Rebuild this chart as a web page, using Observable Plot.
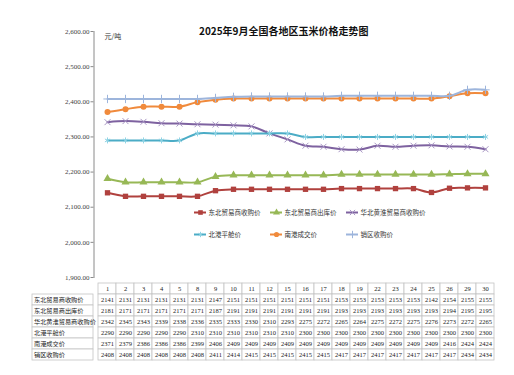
<!DOCTYPE html>
<html><head><meta charset="utf-8">
<script src="https://cdn.jsdelivr.net/npm/d3@7"></script>
<script src="https://cdn.jsdelivr.net/npm/@observablehq/plot@0.6"></script>
<style>
body{margin:0;background:#fff;}
#wrap{position:relative;width:514px;height:375px;overflow:hidden;background:#fff;}
#wrap svg{position:absolute;left:0;top:0;overflow:visible;}
</style></head>
<body><div id="wrap"></div>
<script>
const titleText = "2025年9月全国各地区玉米价格走势图";
const unitText = "元/吨";
const dates = ["1","2","3","4","5","8","9","10","11","12","15","16","17","18","19","22","23","24","25","26","29","30"];
const seriesNames = ["东北贸易商收购价","东北贸易商出库价","华北黄淮贸易商收购价","北港平舱价","南港成交价","销区收购价"];
const dbBuy   = [2141,2131,2131,2131,2131,2131,2147,2151,2151,2151,2151,2151,2151,2153,2153,2153,2153,2153,2142,2154,2155,2155];
const dbOut   = [2181,2171,2171,2171,2171,2171,2187,2191,2191,2191,2191,2191,2191,2193,2193,2193,2193,2193,2193,2194,2195,2195];
const hbBuy   = [2342,2345,2343,2339,2338,2336,2335,2333,2330,2310,2293,2275,2272,2265,2264,2275,2272,2275,2276,2273,2272,2265];
const bgPrice = [2290,2290,2290,2290,2290,2310,2310,2310,2310,2310,2310,2300,2300,2300,2300,2300,2300,2300,2300,2300,2300,2300];
const ngPrice = [2371,2379,2386,2386,2386,2399,2406,2409,2409,2409,2409,2409,2409,2409,2409,2409,2409,2409,2409,2416,2424,2424];
const xqBuy   = [2408,2408,2408,2408,2408,2408,2411,2414,2415,2415,2415,2415,2415,2417,2417,2417,2417,2417,2417,2417,2434,2434];
const yTicks = [1900,2000,2100,2200,2300,2400,2500,2600];

const valuesList = [dbBuy, dbOut, hbBuy, bgPrice, ngPrice, xqBuy];
const colors = ["#B0413E","#97B856","#7E62A0","#4BACC6","#F08A3C","#9DB5DC"];
const markerColors = ["#B0413E","#97B856","#A896C4","#8FD3E4","#F08A3C","#9DB5DC"];
const symbols = ["square","triangle","times","asterisk","circle","plus"];
const filled = [true,true,false,false,true,false];

const series = seriesNames.map((name,i)=>({
  name, color: colors[i], mcolor: markerColors[i], symbol: symbols[i], filled: filled[i],
  data: dates.map((d,j)=>({date:d, value: valuesList[i][j]}))
}));

const W = 514, H = 375;
const mL = 93.5, mR = 15;
const wrap = document.getElementById("wrap");

// Main chart
const chartMarks = [
  Plot.frame({anchor:"left", stroke:"#8a8a8a"}),
  Plot.axisY({ticks: yTicks, tickFormat: d3.format(",.2f"), tickSize: 3, tickPadding: 1.5, label: null, stroke:"#8a8a8a", fill:"#444", fontSize: 7}),
  Plot.text([titleText], {frameAnchor:"top", dx:-13, dy:-4, fontWeight:"bold", fontSize:10, fontFamily:"Noto Sans CJK SC", fill:"#111"}),
  Plot.text([unitText], {frameAnchor:"top-left", textAnchor:"start", dx:10.5, dy:2.5, fontSize:7, fontFamily:"Noto Sans CJK SC", fill:"#333"})
];
series.forEach(s=>{
  chartMarks.push(Plot.line(s.data, {x:"date", y:"value", stroke:s.color, strokeWidth:2, curve:"catmull-rom"}));
  chartMarks.push(Plot.dot(s.data, {x:"date", y:"value", symbol:()=>s.symbol, r: s.filled ? 3 : 2.8,
    fill: s.filled ? s.mcolor : "none", stroke: s.filled ? "none" : s.mcolor, strokeWidth: 1}));
});
const chart = Plot.plot({
  width:W, height:H, marginTop:31, marginBottom:98, marginLeft:mL, marginRight:mR,
  x:{type:"band", domain:dates, padding:0, axis:null},
  y:{domain:[1900,2600], axis:null},
  symbol:{type:"identity"},
  style:{fontFamily:"Liberation Serif", fontSize:"7px", background:"transparent", color:"#333"},
  marks: chartMarks
});
wrap.appendChild(chart);

// Legend
const legendItems = series.map((s,i)=>({...s, col:i%3, row:Math.floor(i/3)}));
const legendMarks = [];
legendItems.forEach(s=>{
  legendMarks.push(Plot.tickY([s], {x:"col", y:"row", stroke:s.color, strokeWidth:2, insetRight:64}));
  legendMarks.push(Plot.dot([s], {x:"col", y:"row", symbol:()=>s.symbol, dx:-32, r: s.filled ? 2.6 : 2.5,
    fill: s.filled ? s.mcolor : "none", stroke: s.filled ? "none" : s.mcolor, strokeWidth: 1}));
  legendMarks.push(Plot.text([s], {x:"col", y:"row", text:"name", textAnchor:"start", dx:-24, fontSize:6.5, fontFamily:"Noto Sans CJK SC", fill:"#333"}));
});
const legend = Plot.plot({
  width:W, height:H, marginTop:201, marginBottom:130, marginLeft:194, marginRight:92,
  x:{type:"band", domain:[0,1,2], padding:0, axis:null},
  y:{type:"band", domain:[0,1], padding:0, axis:null},
  symbol:{type:"identity"},
  style:{background:"transparent"},
  marks: legendMarks
});
wrap.appendChild(legend);

// Table
const rowKeys = ["hdr", ...seriesNames];
const headerCells = dates.map(d=>({row:"hdr", date:d, text:d}));
const bodyCells = series.flatMap(s=>s.data.map(p=>({row:s.name, date:p.date, text:String(p.value)})));
const tMarginTop = 281, tMarginBottom = 13;
const table = Plot.plot({
  width:W, height:H, marginTop:tMarginTop, marginBottom:tMarginBottom, marginLeft:mL, marginRight:mR,
  x:{type:"band", domain:dates, padding:0, axis:null},
  y:{type:"band", domain:rowKeys, padding:0, axis:null},
  style:{background:"transparent"},
  marks:[
    Plot.cell([...headerCells, ...bodyCells], {x:"date", y:"row", fill:"white", stroke:"#c4c4c4", strokeWidth:0.8}),
    Plot.text([...headerCells, ...bodyCells], {x:"date", y:"row", text:"text", fontSize:6.5, fontFamily:"Liberation Serif", fill:"#222"})
  ]
});
wrap.appendChild(table);

const labelCells = seriesNames.map(n=>({row:n, col:"label", text:n}));
const labels = Plot.plot({
  width:W, height:H, marginTop:tMarginTop, marginBottom:tMarginBottom, marginLeft:32, marginRight:W-mL,
  x:{type:"band", domain:["label"], padding:0, axis:null},
  y:{type:"band", domain:rowKeys, padding:0, axis:null},
  style:{background:"transparent"},
  marks:[
    Plot.cell(labelCells, {x:"col", y:"row", fill:"white", stroke:"#c4c4c4", strokeWidth:0.8}),
    Plot.text(labelCells, {y:"row", text:"text", frameAnchor:"left", textAnchor:"start", dx:1.5, fontSize:6.2, fontFamily:"Noto Sans CJK SC", fill:"#222"})
  ]
});
wrap.appendChild(labels);
</script></body></html>
